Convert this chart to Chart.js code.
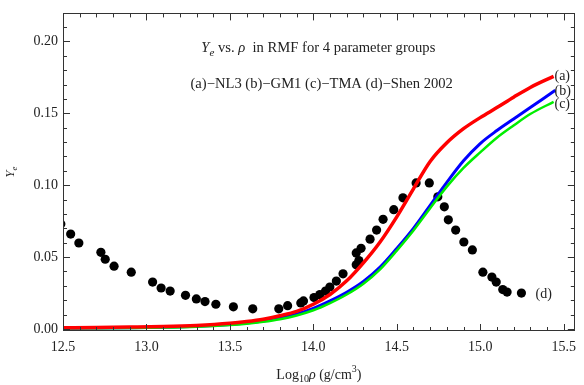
<!DOCTYPE html>
<html><head><meta charset="utf-8">
<script src="https://cdn.jsdelivr.net/npm/chart.js@4/dist/chart.umd.min.js"></script>
<style>html,body{margin:0;padding:0;background:#fff}#wrap{width:584px;height:385px}</style>
</head><body><div id="wrap"><canvas id="c" width="584" height="385"></canvas></div>
<script>
// ---- data ----
const xTicks = [12.5, 13.0, 13.5, 14.0, 14.5, 15.0, 15.5];
const yTicks = [0.00, 0.05, 0.10, 0.15, 0.20];

const rhoA = [12.5, 12.7, 12.9, 13.1, 13.3, 13.5, 13.6, 13.7, 13.8, 13.9, 14.0, 14.1, 14.2, 14.3, 14.4, 14.5, 14.6, 14.7, 14.8, 14.9, 15.0, 15.1, 15.2, 15.3, 15.44];
const yeA  = [0.0008, 0.0010, 0.0013, 0.0017, 0.0025, 0.0040, 0.0052, 0.0068, 0.0092, 0.0122, 0.0172, 0.0240, 0.0335, 0.0460, 0.0605, 0.0780, 0.0975, 0.1165, 0.1295, 0.1393, 0.1470, 0.1540, 0.1612, 0.1680, 0.1757];

const rhoB = [12.5, 12.7, 12.9, 13.1, 13.3, 13.5, 13.6, 13.7, 13.8, 13.9, 14.0, 14.1, 14.2, 14.3, 14.4, 14.5, 14.6, 14.7, 14.8, 14.9, 15.0, 15.1, 15.2, 15.3, 15.45];
const yeB  = [0.0005, 0.0006, 0.0008, 0.0012, 0.0019, 0.0032, 0.0042, 0.0056, 0.0076, 0.0103, 0.0143, 0.0195, 0.0255, 0.0330, 0.0430, 0.0560, 0.0700, 0.0860, 0.1020, 0.1170, 0.1290, 0.1380, 0.1460, 0.1540, 0.1660];

const rhoC = [12.5, 12.7, 12.9, 13.1, 13.3, 13.5, 13.6, 13.7, 13.8, 13.9, 14.0, 14.1, 14.2, 14.3, 14.4, 14.5, 14.6, 14.7, 14.8, 14.9, 15.0, 15.1, 15.2, 15.3, 15.44];
const yeC  = [0.0004, 0.0005, 0.0007, 0.0010, 0.0016, 0.0028, 0.0037, 0.0050, 0.0068, 0.0094, 0.0130, 0.0180, 0.0240, 0.0315, 0.0415, 0.0545, 0.0685, 0.0840, 0.0990, 0.1120, 0.1228, 0.1330, 0.1415, 0.1495, 0.1580];

const rhoD = [12.487, 12.546, 12.595, 12.727, 12.753, 12.806, 12.909, 13.037, 13.088, 13.142, 13.234, 13.299, 13.351, 13.416, 13.521, 13.637, 13.793, 13.846, 13.925, 13.941, 14.004, 14.039, 14.073, 14.099, 14.138, 14.178, 14.257, 14.273, 14.257, 14.286, 14.340, 14.379, 14.418, 14.482, 14.537, 14.616, 14.695, 14.746, 14.785, 14.809, 14.853, 14.902, 14.953, 15.016, 15.070, 15.096, 15.135, 15.161, 15.247];
const yeD  = [0.0730, 0.0660, 0.0598, 0.0533, 0.0485, 0.0437, 0.0395, 0.0326, 0.0285, 0.0264, 0.0234, 0.0209, 0.0191, 0.0172, 0.0154, 0.0140, 0.0140, 0.0162, 0.0181, 0.0195, 0.0219, 0.0239, 0.0264, 0.0292, 0.0333, 0.0384, 0.0446, 0.0476, 0.0529, 0.0561, 0.0625, 0.0688, 0.0763, 0.0830, 0.0912, 0.1016, 0.1016, 0.0919, 0.0850, 0.0759, 0.0688, 0.0605, 0.0550, 0.0395, 0.0361, 0.0326, 0.0274, 0.0257, 0.0250];

const seriesLabels = ['(a)', '(b)', '(c)', '(d)'];
const titleLine2 = '(a)\u2212NL3 (b)\u2212GM1 (c)\u2212TMA (d)\u2212Shen 2002';

const pts = (xs, ys) => xs.map((x, i) => ({x: x, y: ys[i]}));

const SERIF = '"Liberation Serif", "Times New Roman", serif';
const TXT = '#222';

function richText(ctx, segs, x, y, size, align) {
  const parts = segs.map(([t, st]) => {
    const small = st.startsWith('sub') || st === 'sup';
    const it = st.endsWith('i');
    const fs = small ? Math.round(size * 0.72) : size;
    const font = (it ? 'italic ' : '') + fs + 'px ' + SERIF;
    ctx.font = font;
    return {t, font, w: ctx.measureText(t).width, dy: st.startsWith('sub') ? size * 0.3 : (st === 'sup' ? -size * 0.38 : 0)};
  });
  const total = parts.reduce((s, p) => s + p.w, 0);
  let cx = align === 'center' ? x - total / 2 : (align === 'right' ? x - total : x);
  ctx.textBaseline = 'middle';
  ctx.textAlign = 'left';
  for (const p of parts) {
    ctx.font = p.font;
    ctx.fillText(p.t, cx, y + p.dy);
    cx += p.w;
  }
}

const decor = {
  id: 'decor',
  afterDraw(chart) {
    const ctx = chart.ctx, a = chart.chartArea;
    const xs = chart.scales.x, ys = chart.scales.y;
    ctx.save();
    ctx.strokeStyle = '#333';
    ctx.lineWidth = 1;
    ctx.strokeRect(Math.round(a.left) + 0.5, Math.round(a.top) + 0.5, Math.round(a.right - a.left) - 1, Math.round(a.bottom - a.top) - 1);
    ctx.beginPath();
    for (let i = 0; i <= 30; i++) {
      const v = 12.5 + i * 0.1;
      const px = Math.round(xs.getPixelForValue(v)) + 0.5;
      if (px < a.left + 1 || px > a.right - 1) continue;
      const len = (i % 5 === 0) ? 7 : 4;
      ctx.moveTo(px, a.bottom); ctx.lineTo(px, a.bottom - len);
      ctx.moveTo(px, a.top); ctx.lineTo(px, a.top + len);
    }
    for (let i = 0; i <= 21; i++) {
      const v = i * 0.01;
      const py = Math.round(ys.getPixelForValue(v)) + 0.5;
      if (py < a.top + 1 || py > a.bottom - 1) continue;
      const len = (i % 5 === 0) ? 7 : 4;
      ctx.moveTo(a.left, py); ctx.lineTo(a.left + len, py);
      ctx.moveTo(a.right, py); ctx.lineTo(a.right - len, py);
    }
    ctx.stroke();

    ctx.fillStyle = TXT;
    richText(ctx, [['Y', 'i'], ['e', 'subi'], [' vs. ', ''], ['\u03C1', 'i'], ['  in RMF for 4 parameter groups', '']],
      xs.getPixelForValue(14.03), ys.getPixelForValue(0.195), 14.6, 'center');
    richText(ctx, [[titleLine2, '']], xs.getPixelForValue(14.05), ys.getPixelForValue(0.170), 14.6, 'center');
    richText(ctx, [[seriesLabels[0], '']], xs.getPixelForValue(15.445), ys.getPixelForValue(0.1757), 14, 'left');
    richText(ctx, [[seriesLabels[1], '']], xs.getPixelForValue(15.445), ys.getPixelForValue(0.1650), 14, 'left');
    richText(ctx, [[seriesLabels[2], '']], xs.getPixelForValue(15.445), ys.getPixelForValue(0.1565), 14, 'left');
    richText(ctx, [[seriesLabels[3], '']], xs.getPixelForValue(15.332), ys.getPixelForValue(0.0240), 14, 'left');
    richText(ctx, [['Log', ''], ['10', 'sub'], ['\u03C1', 'i'], [' (g/cm', ''], ['3', 'sup'], [')', '']],
      (a.left + a.right) / 2, 375, 14, 'center');
    ctx.save();
    ctx.translate(11, (a.top + a.bottom) / 2);
    ctx.rotate(-Math.PI / 2);
    richText(ctx, [['Y', 'i'], ['e', 'subi']], 0, 0, 13, 'center');
    ctx.restore();
    ctx.restore();
  }
};

const lineDs = (label, data, color, w) => ({
  label, data, borderColor: color, backgroundColor: color, borderWidth: w,
  pointRadius: 0, showLine: true, cubicInterpolationMode: 'monotone', fill: false, clip: 0
});

new Chart(document.getElementById('c'), {
  type: 'scatter',
  data: {
    datasets: [
      lineDs('(a)', pts(rhoA, yeA), '#ff0000', 3.5),
      lineDs('(c)', pts(rhoC, yeC), '#00ee00', 2.5),
      lineDs('(b)', pts(rhoB, yeB), '#0000ff', 3),
      { label: '(d)', data: pts(rhoD, yeD), backgroundColor: '#000', borderColor: '#000',
        pointRadius: 4.6, pointHoverRadius: 4.6, borderWidth: 0, showLine: false, clip: 0 }
    ]
  },
  options: {
    responsive: false, animation: false,
    layout: { padding: { left: 0, top: 11, right: 2, bottom: 0 } },
    plugins: { legend: { display: false }, tooltip: { enabled: false } },
    scales: {
      x: {
        type: 'linear', min: 12.5, max: 15.567,
        afterBuildTicks: s => { s.ticks = xTicks.map(v => ({value: v})); },
        afterFit: s => { s.height = 54; },
        grid: { display: false, drawTicks: false }, border: { display: false },
        ticks: { padding: 8, color: TXT, font: { family: SERIF, size: 14 }, callback: v => Number(v).toFixed(1), maxRotation: 0 }
      },
      y: {
        type: 'linear', min: -0.0014, max: 0.2195,
        afterBuildTicks: s => { s.ticks = yTicks.map(v => ({value: v})); },
        afterFit: s => { s.width = 63; },
        grid: { display: false, drawTicks: false }, border: { display: false },
        ticks: { padding: 5, color: TXT, font: { family: SERIF, size: 14 }, callback: v => Number(v).toFixed(2) }
      }
    }
  },
  plugins: [decor]
});
</script></body></html>
